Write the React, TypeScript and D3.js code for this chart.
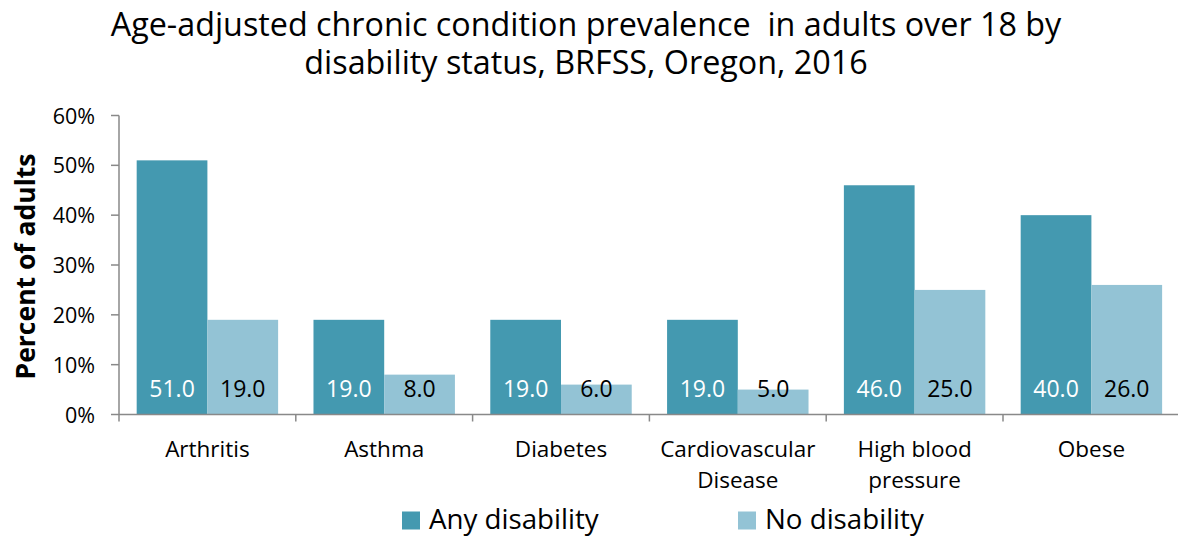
import React from "react";
import * as d3 from "d3";

const categories: string[][] = [
  ["Arthritis"],
  ["Asthma"],
  ["Diabetes"],
  ["Cardiovascular", "Disease"],
  ["High blood", "pressure"],
  ["Obese"],
];
const seriesNames = ["Any disability", "No disability"];
const anyDisability = [51.0, 19.0, 19.0, 19.0, 46.0, 40.0];
const noDisability = [19.0, 8.0, 6.0, 5.0, 25.0, 26.0];
const yTicks = [0, 10, 20, 30, 40, 50, 60];
const titleLines = [
  "Age-adjusted chronic condition prevalence  in adults over 18 by",
  "disability status, BRFSS, Oregon, 2016",
];
const yAxisTitle = "Percent of adults";

const W = 1178;
const H = 541;
const FONT = "'Open Sans', sans-serif";
const COLORS = ["#4499B0", "#93C3D5"];
const LABEL_COLORS = ["#FFFFFF", "#000000"];
const AXIS = "#898989";

export default function App() {
  const keys = categories.map((c) => c.join(" "));
  const x = d3.scaleBand<string>().domain(keys).range([119, 1179.8]).paddingInner(0).paddingOuter(0);
  const xs = d3.scaleBand<string>().domain(seriesNames).range([0, x.bandwidth()]).paddingInner(0).paddingOuter(0.25);
  const y = d3.scaleLinear().domain([0, 60]).range([414.5, 115.5]);
  const values = [anyDisability, noDisability];

  return (
    <svg
      width={W}
      height={H}
      style={{ position: "absolute", left: 0, top: 0, background: "#fff", fontVariantLigatures: "none" }}
      fontFamily={FONT}
    >
      <rect x={0} y={0} width={W} height={H} fill="#fff" />
      {titleLines.map((t, i) => (
        <text key={i} x={586} y={36 + i * 38} textAnchor="middle" fontSize={32.3} fill="#000" style={{ whiteSpace: "pre" }}>
          {t}
        </text>
      ))}
      {/* bars */}
      {seriesNames.map((s, si) =>
        keys.map((k, ci) => {
          const v = values[si][ci];
          const bx = (x(k) as number) + (xs(s) as number);
          return (
            <g key={s + k}>
              <rect x={bx} y={y(v)} width={xs.bandwidth()} height={y(0) - y(v)} fill={COLORS[si]} />
              <text x={bx + xs.bandwidth() / 2} y={397} textAnchor="middle" fontSize={23} fill={LABEL_COLORS[si]}>
                {v.toFixed(1)}
              </text>
            </g>
          );
        })
      )}
      {/* y axis */}
      <line x1={119} x2={119} y1={y(60)} y2={y(0)} stroke={AXIS} strokeWidth={1.5} />
      {yTicks.map((t) => (
        <g key={t}>
          <line x1={111} x2={119} y1={y(t)} y2={y(t)} stroke={AXIS} strokeWidth={1.5} />
          <text x={95} y={y(t) + 8} textAnchor="end" fontSize={21.5} fill="#000">
            {t}%
          </text>
        </g>
      ))}
      {/* x axis */}
      <line x1={119} x2={1180} y1={y(0)} y2={y(0)} stroke={AXIS} strokeWidth={1.5} />
      {keys.map((k, i) => (
        <line key={"t" + i} x1={x(k) as number} x2={x(k) as number} y1={y(0)} y2={y(0) + 7} stroke={AXIS} strokeWidth={1.5} />
      ))}
      {categories.map((lines, i) => (
        <text key={"c" + i} textAnchor="middle" fontSize={22.5} fill="#000">
          {lines.map((l, li) => (
            <tspan key={li} x={(x(keys[i]) as number) + x.bandwidth() / 2} y={457 + li * 31}>
              {l}
            </tspan>
          ))}
        </text>
      ))}
      {/* y axis title */}
      <text transform="translate(35,266.5) rotate(-90)" textAnchor="middle" fontSize={26.5} fontWeight="bold" fill="#000">
        {yAxisTitle}
      </text>
      {/* legend */}
      {seriesNames.map((s, i) => {
        const lx = [402, 738][i];
        return (
          <g key={"l" + i}>
            <rect x={lx} y={511.5} width={18} height={18} fill={COLORS[i]} />
            <text x={lx + 27} y={529} fontSize={27.7} fill="#000">
              {s}
            </text>
          </g>
        );
      })}
    </svg>
  );
}
